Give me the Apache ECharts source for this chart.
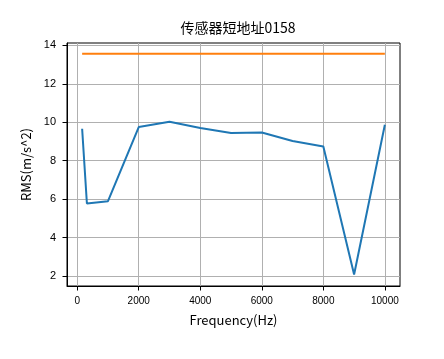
<!DOCTYPE html>
<html><head><meta charset="utf-8">
<script src="https://cdn.jsdelivr.net/npm/echarts@6/dist/echarts.min.js"></script>
<style>html,body{margin:0;padding:0;background:#fff}#c{width:444px;height:359px}</style>
</head><body><div id="c"></div>
<script>
const freqs = [160, 315, 1000, 2000, 3000, 4000, 5000, 6000, 7000, 8000, 9000, 10000];
const rms = [9.66, 5.77, 5.89, 9.75, 10.03, 9.70, 9.44, 9.47, 9.02, 8.74, 2.07, 9.87];
const limitX = [160, 10000];
const limitY = [13.57, 13.57];
const xTicks = [0, 2000, 4000, 6000, 8000, 10000];
const yTicks = [2, 4, 6, 8, 10, 12, 14];
const titleText = '传感器短地址0158';

const font = '"Noto Sans CJK SC", "DejaVu Sans", sans-serif';
const tickFont = '"Liberation Sans", Arial, sans-serif';
const chart = echarts.init(document.getElementById('c'), null, {renderer: 'canvas'});
chart.setOption({
  animation: false,
  backgroundColor: '#fff',
  title: {text: titleText, left: 233, textAlign: 'center', top: 16,
    textStyle: {fontFamily: font, fontSize: 14, fontWeight: 'normal', color: '#000'}},
  grid: {left: 67, right: 44, top: 43, bottom: 73, show: true, borderColor: '#000', borderWidth: 1, backgroundColor: 'transparent'},
  xAxis: {
    type: 'value', min: -332, max: 10492,
    name: 'Frequency(Hz)', nameLocation: 'middle', nameGap: 28,
    nameTextStyle: {fontFamily: font, fontSize: 13, color: '#000'},
    axisLine: {show: true, onZero: false, lineStyle: {color: '#000', width: 1}},
    axisTick: {show: true, length: 4.5, customValues: xTicks, lineStyle: {color: '#000'}},
    axisLabel: {customValues: xTicks, margin: 10, fontFamily: tickFont, fontSize: 10, color: '#000',
      formatter: v => String(v)},
    splitLine: {show: true, customValues: xTicks, lineStyle: {color: '#b0b0b0', width: 1}}
  },
  yAxis: {
    type: 'value', min: 1.475, max: 14.125,
    name: 'RMS(m/s^2)', nameLocation: 'middle', nameGap: 27, nameRotate: 90,
    nameTextStyle: {fontFamily: font, fontSize: 13, color: '#000'},
    axisLine: {show: true, onZero: false, lineStyle: {color: '#000', width: 1}},
    axisTick: {show: true, length: 4.5, customValues: yTicks, lineStyle: {color: '#000'}},
    axisLabel: {customValues: yTicks, margin: 11, fontFamily: tickFont, fontSize: 11, color: '#000',
      formatter: v => String(v)},
    splitLine: {show: true, customValues: yTicks, lineStyle: {color: '#b0b0b0', width: 1}}
  },
  series: [
    {type: 'line', data: freqs.map((f, i) => [f, rms[i]]), showSymbol: false, symbol: 'none',
      lineStyle: {color: '#1f77b4', width: 2}, itemStyle: {color: '#1f77b4'}},
    {type: 'line', data: limitX.map((f, i) => [f, limitY[i]]), showSymbol: false, symbol: 'none',
      lineStyle: {color: '#ff7f0e', width: 2}, itemStyle: {color: '#ff7f0e'}}
  ]
});
</script></body></html>
